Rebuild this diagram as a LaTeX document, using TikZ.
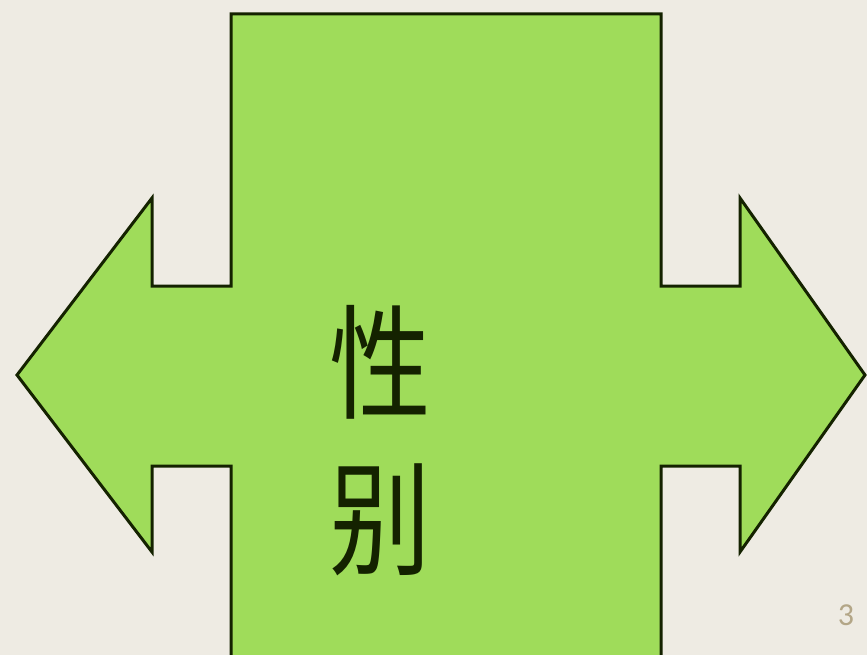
\documentclass[tikz,border=0pt]{standalone}
\usepackage{fontspec}
\newfontfamily\cjk{Noto Sans CJK SC}
\newfontfamily\numfont{Carlito}
\definecolor{slide bg}{HTML}{EEEBE3}
\definecolor{arrow fill}{HTML}{9FDC5A}
\definecolor{arrow edge}{HTML}{142200}
\definecolor{page num}{HTML}{B3A687}
\tikzset{
  crossarrow/.style={fill=arrow fill, draw=arrow edge, line width=3pt, line join=miter},
  hanzi/.style={font=\cjk\fontsize{124}{124}\selectfont, text=arrow edge, inner sep=0pt, xscale=0.82, transform shape},
  pagenum/.style={font=\numfont\fontsize{32}{32}\selectfont, text=page num, inner sep=0pt}
}
\begin{document}
\begin{tikzpicture}[x=1pt, y=-1pt]
    \fill[slide bg] (0,0) rectangle (867,655);
    \useasboundingbox (0,0) rectangle (867,655);
    \begin{scope}
    \clip (0,0) rectangle (867,655);
    % the double arrow with the tall middle block
    \draw[crossarrow] (231,14) -- (661,14) -- (661,286) -- (740,286) -- (740,198)
        -- (865,375) -- (740,552) -- (740,466) -- (661,466) -- (661,680)
        -- (231,680) -- (231,466) -- (152,466) -- (152,552) -- (17,375)
        -- (152,198) -- (152,286) -- (231,286) -- cycle;
    \end{scope}
    \node[hanzi] (xing) at (380,362) {性};
    \node[hanzi] (bie) at (380,520) {别};
    \node[pagenum] (page) at (846,615) {3};
\end{tikzpicture}
\end{document}
